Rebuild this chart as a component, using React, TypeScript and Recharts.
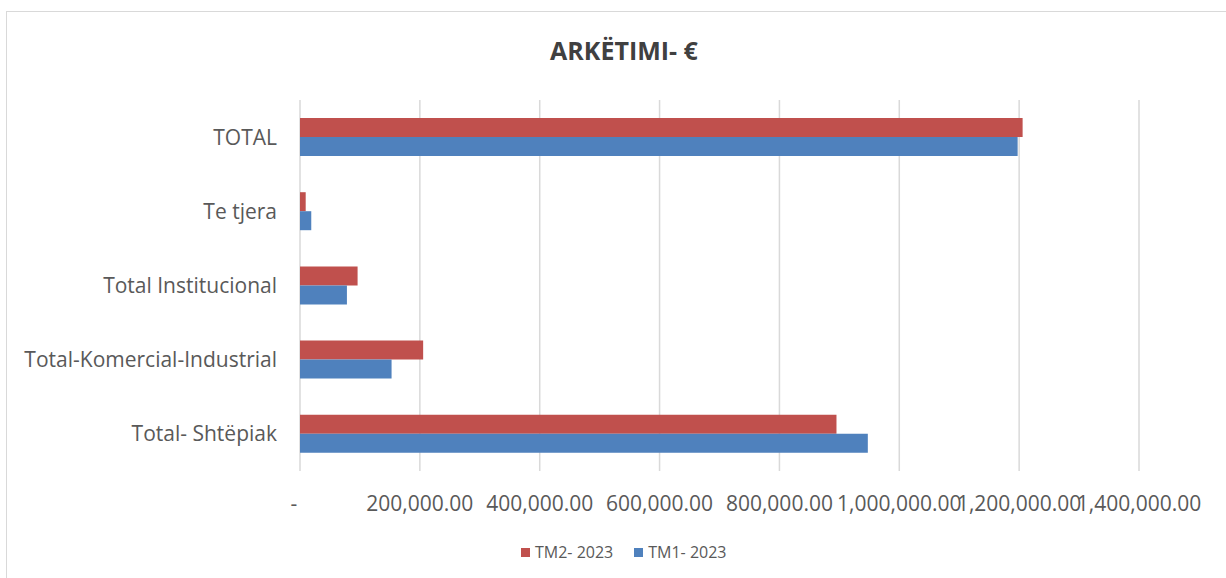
import React from "react";
import { BarChart, Bar, XAxis, YAxis, CartesianGrid } from "recharts";

const categories = ["TOTAL", "Te tjera", "Total Institucional", "Total-Komercial-Industrial", "Total- Shtëpiak"];
const tm2Values = [1205800, 9500, 96100, 205500, 895200];
const tm1Values = [1197500, 18800, 78300, 152800, 947500];
const xTicks = [0, 200000, 400000, 600000, 800000, 1000000, 1200000, 1400000];
const seriesNames = ["TM2- 2023", "TM1- 2023"];
const title = "ARKËTIMI- €";

const RED = "#C0504D";
const BLUE = "#4F81BD";
const TEXT = "#595959";
const FONT = "'Open Sans', sans-serif";

const data = categories.map((c, i) => ({ name: c, tm2: tm2Values[i], tm1: tm1Values[i] }));

const fmt = (v: number) =>
  v === 0 ? "-" : v.toLocaleString("en-US", { minimumFractionDigits: 2, maximumFractionDigits: 2 });

const XTick = (props: any) => {
  const { x, y, payload } = props;
  const v = payload.value as number;
  return (
    <text x={v === 0 ? x - 6 : x} y={y} dy={20} textAnchor="middle" fill={TEXT} fontSize={21} fontFamily={FONT}>
      {fmt(v)}
    </text>
  );
};

export default function App() {
  return (
    <div style={{ position: "absolute", left: 0, top: 0, width: 1226, height: 578, background: "#fff", overflow: "hidden" }}>
      <div
        style={{
          position: "absolute",
          left: 6,
          top: 11,
          width: 1240,
          height: 600,
          border: "1.5px solid #d9d9d9",
          boxSizing: "border-box",
        }}
      />
      <div
        style={{
          position: "absolute",
          left: 0,
          width: 1248,
          top: 32,
          textAlign: "center",
          fontFamily: FONT,
          fontWeight: 700,
          fontSize: 25,
          color: "#404040",
          lineHeight: "36px",
        }}
      >
        {title}
      </div>
      <div style={{ position: "absolute", left: 0, top: 0 }}>
        <BarChart
          width={1226}
          height={578}
          data={data}
          layout="vertical"
          margin={{ top: 100, right: 87, left: 0, bottom: 47 }}
          barGap={0}
          barSize={19}
        >
          <CartesianGrid horizontal={false} stroke="#d9d9d9" strokeWidth={1.5} />
          <XAxis
            type="number"
            domain={[0, 1400000]}
            ticks={xTicks}
            interval={0}
            height={60}
            axisLine={false}
            tickLine={false}
            tickSize={0}
            tickMargin={20}
            tick={<XTick />}
          />
          <YAxis
            type="category"
            dataKey="name"
            width={300}
            axisLine={false}
            tickLine={false}
            tickSize={0}
            tickMargin={23}
            tick={{ fill: TEXT, fontSize: 21, fontFamily: FONT }}
          />
          <Bar dataKey="tm2" name={seriesNames[0]} fill={RED} isAnimationActive={false} />
          <Bar dataKey="tm1" name={seriesNames[1]} fill={BLUE} isAnimationActive={false} />
        </BarChart>
      </div>
      <div
        style={{
          position: "absolute",
          left: 521,
          top: 541,
          display: "flex",
          alignItems: "center",
          fontFamily: FONT,
          fontSize: 16,
          color: TEXT,
          lineHeight: "22px",
        }}
      >
        {seriesNames.map((n, i) => (
          <div key={n} style={{ display: "flex", alignItems: "center", marginRight: i === 0 ? 21 : 0 }}>
            <span style={{ display: "inline-block", width: 9, height: 9, background: i === 0 ? RED : BLUE, marginRight: 5 }} />
            <span>{n}</span>
          </div>
        ))}
      </div>
    </div>
  );
}
